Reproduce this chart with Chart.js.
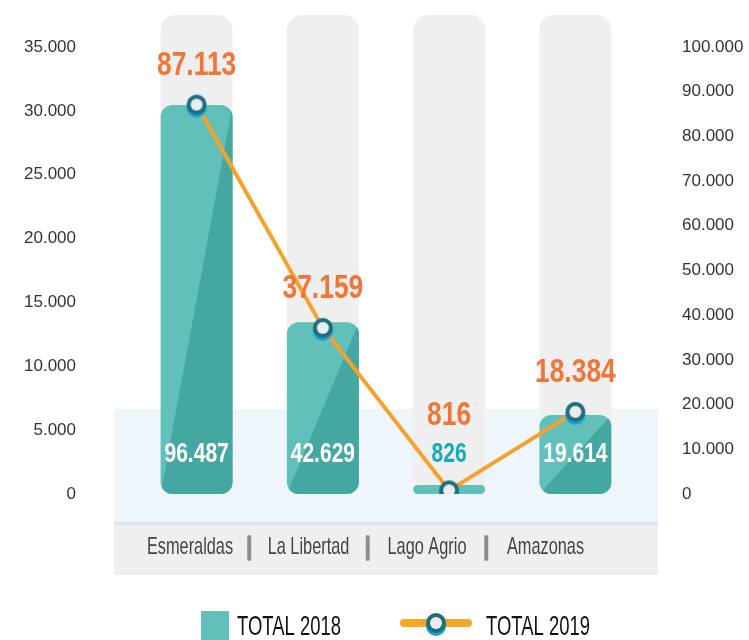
<!DOCTYPE html>
<html>
<head>
<meta charset="utf-8">
<script src="https://cdn.jsdelivr.net/npm/chart.js@4/dist/chart.umd.min.js"></script>
<style>
html,body{margin:0;padding:0;background:#fff;}
#wrap{width:749px;height:640px;position:relative;}
</style>
</head>
<body>
<div id="wrap"><canvas id="c" width="749" height="640"></canvas></div>
<script>
// ---- data ----
const categories = ['Esmeraldas', 'La Libertad', 'Lago Agrio', 'Amazonas'];
const total2018 = [96487, 42629, 826, 19614];
const total2019 = [87113, 37159, 816, 18384];
const leftTicks = [0, 5000, 10000, 15000, 20000, 25000, 30000, 35000];
const rightTicks = [0, 10000, 20000, 30000, 40000, 50000, 60000, 70000, 80000, 90000, 100000];
const seriesNames = ['TOTAL 2018', 'TOTAL 2019'];

const FONT = "'Liberation Sans','Arial','Helvetica',sans-serif";
const fmt = v => String(v).replace(/\B(?=(\d{3})+(?!\d))/g, '.');

// marker image
function makeMarker() {
  const c = document.createElement('canvas');
  c.width = 24; c.height = 34;
  const g = c.getContext('2d');
  g.fillStyle = '#1c9fcf';
  g.beginPath(); g.arc(12, 20, 10, 0, Math.PI * 2); g.fill();
  g.fillStyle = '#1f6e80';
  g.beginPath(); g.arc(12, 17, 10, 0, Math.PI * 2); g.fill();
  g.fillStyle = '#ececec';
  g.beginPath(); g.arc(12, 17, 6, 0, Math.PI * 2); g.fill();
  return c;
}
const marker = makeMarker();

function rr(ctx, x, y, w, h, r) {
  r = Math.min(r, w / 2, h / 2);
  ctx.beginPath();
  ctx.moveTo(x + r, y);
  ctx.lineTo(x + w - r, y);
  ctx.arcTo(x + w, y, x + w, y + r, r);
  ctx.lineTo(x + w, y + h - r);
  ctx.arcTo(x + w, y + h, x + w - r, y + h, r);
  ctx.lineTo(x + r, y + h);
  ctx.arcTo(x, y + h, x, y + h - r, r);
  ctx.lineTo(x, y + r);
  ctx.arcTo(x, y, x + r, y, r);
  ctx.closePath();
}

// draws horizontally condensed text
function txt(ctx, s, x, y, font, color, sx, align) {
  ctx.save();
  ctx.font = font;
  ctx.fillStyle = color;
  ctx.textAlign = align || 'center';
  ctx.textBaseline = 'middle';
  ctx.translate(x, y);
  ctx.scale(sx, 1);
  ctx.fillText(s, 0, 0);
  ctx.restore();
}

const decor = {
  id: 'decor',
  beforeDatasetsDraw(chart) {
    const ctx = chart.ctx;
    ctx.save();
    ctx.fillStyle = '#eef6fc';
    ctx.fillRect(114, 409, 544, 113);
    ctx.fillStyle = '#dce6ee';
    ctx.fillRect(114, 522, 544, 3);
    ctx.fillStyle = '#efefef';
    ctx.fillRect(114, 525, 544, 50);
    const meta = chart.getDatasetMeta(1);
    meta.data.forEach(el => {
      const p = el.getProps(['x', 'width'], true);
      ctx.fillStyle = '#efefef';
      rr(ctx, p.x - p.width / 2, 15, p.width, 477, 15);
      ctx.fill();
    });
    ctx.restore();
  },
  afterDatasetDraw(chart, args) {
    if (args.index !== 1) return;
    const ctx = chart.ctx;
    args.meta.data.forEach(el => {
      const p = el.getProps(['x', 'y', 'base', 'width'], true);
      const top = Math.min(p.y, p.base), bot = Math.max(p.y, p.base);
      const l = p.x - p.width / 2, r = p.x + p.width / 2;
      if (bot - top < 20) return;
      ctx.save();
      rr(ctx, l, top, p.width, bot - top, 12);
      ctx.clip();
      ctx.fillStyle = '#45a7a2';
      ctx.beginPath();
      ctx.moveTo(r, top);
      ctx.lineTo(r, bot);
      ctx.lineTo(l, bot);
      ctx.closePath();
      ctx.fill();
      ctx.restore();
    });
  },
  afterDraw(chart) {
    const ctx = chart.ctx;
    const base = chart.chartArea.bottom;
    const barMeta = chart.getDatasetMeta(1);
    const lineMeta = chart.getDatasetMeta(0);
    // bar value labels
    barMeta.data.forEach((el, i) => {
      const p = el.getProps(['x', 'y', 'base'], true);
      const h = Math.abs(p.base - p.y);
      const col = h > 40 ? '#ffffff' : '#17a8c1';
      txt(ctx, fmt(total2018[i]), p.x, base - 39, 'bold 27px ' + FONT, col, 0.78);
    });
    // line value labels
    lineMeta.data.forEach((el, i) => {
      const p = el.getProps(['x', 'y'], true);
      const y = Math.min(p.y - 39, base - 78);
      txt(ctx, fmt(total2019[i]), p.x, y, 'bold 33px ' + FONT, '#f07536', 0.8);
    });
    // category labels + separators
    const cx0 = 190, step = 118.5;
    categories.forEach((c, i) => {
      txt(ctx, c, cx0 + i * step, 547, '24px ' + FONT, '#444444', 0.68);
      if (i > 0) {
        ctx.save();
        ctx.strokeStyle = '#8c8c8c';
        ctx.lineWidth = 4;
        ctx.lineCap = 'round';
        ctx.beginPath();
        const sx = cx0 + (i - 0.5) * step;
        ctx.moveTo(sx, 537);
        ctx.lineTo(sx, 559);
        ctx.stroke();
        ctx.restore();
      }
    });
    // legend
    ctx.save();
    ctx.fillStyle = '#62c0bb';
    ctx.fillRect(201, 611, 28, 29);
    ctx.strokeStyle = '#f6a72a';
    ctx.lineWidth = 8;
    ctx.lineCap = 'round';
    ctx.beginPath();
    ctx.moveTo(404, 623);
    ctx.lineTo(468, 623);
    ctx.stroke();
    ctx.drawImage(marker, 436 - 12, 623 - 17);
    ctx.restore();
    txt(ctx, seriesNames[0], 237, 627, '28px ' + FONT, '#111111', 0.66, 'left');
    txt(ctx, seriesNames[1], 486, 627, '28px ' + FONT, '#111111', 0.66, 'left');
  }
};

const spacer = (pos, w) => ({
  type: 'linear', position: pos, weight: 0, display: true,
  min: 0, max: 1,
  grid: { display: false, drawTicks: false },
  border: { display: false },
  ticks: { display: false },
  afterFit: s => { s.width = w; }
});

new Chart(document.getElementById('c'), {
  type: 'bar',
  data: {
    labels: categories,
    datasets: [
      {
        type: 'line',
        label: seriesNames[1],
        data: total2019,
        yAxisID: 'y2',
        borderColor: '#f5a12a',
        borderWidth: 4,
        pointStyle: marker,
        pointRadius: 10,
        pointHoverRadius: 10,
        tension: 0,
        fill: false,
        order: 0
      },
      {
        type: 'bar',
        label: seriesNames[0],
        data: total2018,
        yAxisID: 'yb',
        backgroundColor: '#62c0bb',
        borderRadius: 12,
        borderSkipped: false,
        barPercentage: 1,
        categoryPercentage: 72 / 126.25,
        minBarLength: 9,
        order: 1
      }
    ]
  },
  options: {
    responsive: false,
    animation: false,
    layout: { padding: { top: 47, bottom: 146, left: 0, right: 0 } },
    plugins: { legend: { display: false }, tooltip: { enabled: false } },
    scales: {
      x: { display: false, offset: true },
      y: {
        position: 'left', weight: 1,
        min: leftTicks[0], max: leftTicks[leftTicks.length - 1],
        afterBuildTicks: s => { s.ticks = leftTicks.map(v => ({ value: v })); },
        afterFit: s => { s.width = 80; },
        grid: { display: false, drawTicks: false },
        border: { display: false },
        ticks: { padding: 4, color: '#333333', font: { family: FONT, size: 17 }, callback: v => fmt(v) }
      },
      spL: spacer('left', 53.5),
      spR: spacer('right', 39.5),
      y2: {
        position: 'right', weight: 1,
        min: rightTicks[0], max: rightTicks[rightTicks.length - 1],
        afterBuildTicks: s => { s.ticks = rightTicks.map(v => ({ value: v })); },
        afterFit: s => { s.width = 71; },
        grid: { display: false, drawTicks: false },
        border: { display: false },
        ticks: { padding: 4, color: '#333333', font: { family: FONT, size: 17 }, callback: v => fmt(v) }
      },
      yb: { display: false, min: 0, max: 110900 }
    }
  },
  plugins: [decor]
});
</script>
</body>
</html>
